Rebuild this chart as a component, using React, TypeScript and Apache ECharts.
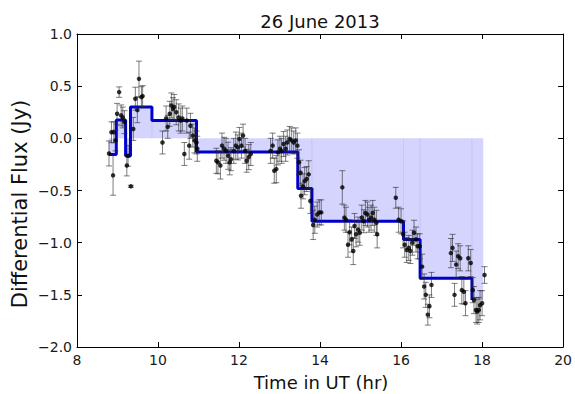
import React, { useEffect, useRef } from "react";
import * as echarts from "echarts";

const chartTitle = "26 June 2013";
const xName = "Time in UT (hr)";
const yName = "Differential Flux (Jy)";

const xTicks = [8, 10, 12, 14, 16, 18, 20];
const yTicks = [-2.0, -1.5, -1.0, -0.5, 0.0, 0.5, 1.0];

// step (binned) light curve
const stepEdges = [8.79, 8.97, 9.2, 9.32, 9.85, 10.95, 13.45, 13.8, 16.06, 16.47, 17.75, 18.03];
const stepLevels = [-0.155, 0.175, -0.17, 0.3, 0.17, -0.13, -0.48, -0.795, -0.97, -1.34, -1.55];

// individual measurements
const times = [
  8.79, 8.89, 8.85, 8.91, 8.95, 8.99, 9.04, 9.09, 9.13, 9.17, 9.23, 9.26, 9.33, 9.39, 9.44, 9.49, 9.53, 9.59, 9.62,
  10.11, 10.2, 10.24, 10.29, 10.33, 10.37, 10.4, 10.45, 10.51, 10.56, 10.6, 10.65, 10.71, 10.77, 10.8, 10.86, 10.9, 10.95, 10.97,
  11.44, 11.48, 11.54, 11.58, 11.63, 11.68, 11.73, 11.77, 11.8, 11.87, 11.92, 11.97, 12.01, 12.06, 12.1, 12.15, 12.19, 12.24, 12.29,
  12.78, 12.83, 12.87, 12.92, 12.96, 13.01, 13.05, 13.1, 13.15, 13.19, 13.25, 13.3, 13.35, 13.4, 13.44, 13.48, 13.52,
  13.53, 13.58, 13.62, 13.67, 13.72, 13.76, 13.83, 13.87, 13.93, 13.98, 14.03,
  14.55, 14.6, 14.64, 14.69, 14.73, 14.78, 14.82, 14.85, 14.89, 14.94, 14.98, 15.03, 15.08, 15.12, 15.17, 15.21, 15.26, 15.3, 15.34, 15.39, 15.41,
  15.87, 15.94, 16.0, 16.05, 16.09, 16.14, 16.19, 16.23, 16.28, 16.32, 16.37, 16.41, 16.46, 16.52, 16.57, 16.61, 16.66, 16.7, 16.75,
  17.23, 17.27, 17.32, 17.36, 17.41, 17.46, 17.5, 17.55, 17.59, 17.66, 17.72, 17.77, 17.8, 17.85, 17.88, 17.92, 17.95, 18.0, 18.06,
];
const fluxes = [
  -0.145, -0.355, 0.058, 0.058, -0.02, 0.235, 0.443, 0.22, 0.2, 0.155, -0.26, -0.167, -0.46, 0.09, 0.38, 0.27, 0.57, 0.395, 0.405,
  -0.04, 0.19, 0.11, 0.235, 0.315, 0.28, 0.3, 0.25, 0.2, 0.17, 0.19, -0.15, 0.17, -0.07, 0.12, 0.026, -0.02, -0.04, -0.1,
  -0.215, -0.23, -0.26, -0.07, -0.1, -0.12, -0.167, -0.23, -0.2, -0.12, -0.07, -0.087, -0.006, -0.07, 0.026, -0.12, -0.215, -0.18, -0.15,
  -0.12, -0.07, -0.31, -0.295, -0.135, -0.1, -0.12, -0.055, -0.1, -0.04, -0.006, -0.02, -0.04, -0.02, -0.07, -0.23, -0.33,
  -0.55, -0.46, -0.41, -0.39, -0.345, -0.6, -0.83, -0.78, -0.73, -0.71, -0.71,
  -0.47, -0.76, -0.78, -1.02, -0.9, -0.97, -1.08, -0.84, -0.92, -0.875, -0.905, -0.76, -0.795, -0.715, -0.73, -0.78, -0.76, -0.715, -0.78, -0.81, -0.92,
  -0.57, -0.78, -0.795, -0.92, -1.02, -1.07, -1.05, -1.08, -1.0, -0.905, -0.97, -1.035, -1.035, -1.23, -1.42, -1.5, -1.69, -1.61, -1.405,
  -1.1, -1.05, -1.5, -1.21, -1.13, -1.15, -1.455, -1.47, -1.58, -1.15, -1.195, -1.455, -1.55, -1.645, -1.66, -1.645, -1.6, -1.58, -1.31,
];
const errors = [
  0.12, 0.19, 0.1, 0.1, 0.1, 0.1, 0.05, 0.1, 0.1, 0.11, 0.1, 0.1, 0.01, 0.11, 0.11, 0.12, 0.17, 0.1, 0.1,
  0.11, 0.12, 0.11, 0.12, 0.12, 0.11, 0.12, 0.12, 0.13, 0.12, 0.12, 0.11, 0.12, 0.13, 0.12, 0.11, 0.12, 0.11, 0.12,
  0.12, 0.11, 0.13, 0.12, 0.11, 0.12, 0.13, 0.12, 0.11, 0.12, 0.13, 0.12, 0.11, 0.12, 0.11, 0.12, 0.11, 0.12, 0.11,
  0.12, 0.12, 0.12, 0.13, 0.12, 0.12, 0.12, 0.12, 0.12, 0.12, 0.12, 0.12, 0.11, 0.12, 0.12, 0.12, 0.12,
  0.12, 0.12, 0.13, 0.12, 0.13, 0.12, 0.14, 0.13, 0.12, 0.12, 0.12,
  0.16, 0.12, 0.12, 0.12, 0.12, 0.12, 0.13, 0.12, 0.12, 0.12, 0.12, 0.12, 0.11, 0.12, 0.12, 0.12, 0.12, 0.12, 0.12, 0.12, 0.13,
  0.1, 0.12, 0.12, 0.13, 0.12, 0.12, 0.12, 0.12, 0.12, 0.12, 0.12, 0.12, 0.12, 0.12, 0.12, 0.12, 0.1, 0.11, 0.12,
  0.14, 0.13, 0.11, 0.13, 0.12, 0.12, 0.13, 0.12, 0.12, 0.12, 0.13, 0.12, 0.13, 0.12, 0.12, 0.12, 0.14, 0.12, 0.08,
];

const FONT = "'DejaVu Sans', sans-serif";

export default function App() {
  const ref = useRef<HTMLDivElement>(null);

  useEffect(() => {
    if (!ref.current) return;
    const chart = echarts.init(ref.current, undefined, { renderer: "svg" });

    const linePts: number[][] = [];
    for (let i = 0; i < stepLevels.length - 1; i++) {
      linePts.push([stepEdges[i], stepLevels[i]]);
      linePts.push([stepEdges[i + 1], stepLevels[i]]);
    }
    linePts.push([stepEdges[stepLevels.length - 1], stepLevels[stepLevels.length - 1]]);

    const bins = stepLevels.map((v, i) => [stepEdges[i], stepEdges[i + 1], v]);
    const pts = times.map((t, i) => [t, fluxes[i], errors[i]]);

    const yFmt = (v: number) => v.toFixed(1).replace("-", "\u2212");
    const xMin = xTicks[0];
    const xMax = xTicks[xTicks.length - 1];
    const yMin = yTicks[0];
    const yMax = yTicks[yTicks.length - 1];

    const axisCommon = {
      axisLine: { show: true, onZero: false, lineStyle: { color: "#000", width: 1 } },
      axisTick: { show: true, inside: true, length: 5, lineStyle: { color: "#000" } },
      splitLine: { show: false },
    };

    chart.setOption({
      animation: false,
      backgroundColor: "#fff",
      grid: { left: 77, right: 11, top: 34, bottom: 47, containLabel: false },
      xAxis: [
        {
          type: "value", min: xMin, max: xMax, interval: 2, position: "bottom",
          ...axisCommon,
          axisLabel: { color: "#1a1a1a", fontSize: 14, fontFamily: FONT, margin: 6 },
        },
        {
          type: "value", min: xMin, max: xMax, interval: 2, position: "top",
          ...axisCommon,
          axisLabel: { show: false },
        },
      ],
      yAxis: [
        {
          type: "value", min: yMin, max: yMax, interval: 0.5, position: "left",
          ...axisCommon,
          axisLabel: { color: "#1a1a1a", fontSize: 14, fontFamily: FONT, margin: 5, formatter: yFmt },
        },
        {
          type: "value", min: yMin, max: yMax, interval: 0.5, position: "right",
          ...axisCommon,
          axisLabel: { show: false },
        },
      ],
      graphic: [
        {
          type: "text", x: 320, y: 21,
          style: { text: chartTitle, fill: "#111", font: `18px ${FONT}`, textAlign: "center", textVerticalAlign: "middle" },
        },
        {
          type: "text", x: 321, y: 382,
          style: { text: xName, fill: "#111", font: `18px ${FONT}`, textAlign: "center", textVerticalAlign: "middle" },
        },
        {
          type: "text", x: 20, y: 204, rotation: Math.PI / 2,
          style: { text: yName, fill: "#111", font: `21px ${FONT}`, textAlign: "center", textVerticalAlign: "middle" },
        },
      ],
      series: [
        {
          type: "custom",
          name: "fill",
          xAxisIndex: 0, yAxisIndex: 0,
          data: bins,
          encode: { x: [0, 1], y: 2 },
          silent: true,
          z: 1,
          renderItem: (params: any, api: any) => {
            const x0 = api.value(0), x1 = api.value(1), v = api.value(2);
            const a = api.coord([x0, 0]);
            const b = api.coord([x1, v]);
            const yTop = Math.min(a[1], b[1]);
            const h = Math.abs(a[1] - b[1]);
            return {
              type: "group",
              children: [
                {
                  type: "rect",
                  shape: { x: a[0], y: yTop, width: b[0] - a[0], height: h },
                  style: { fill: "rgba(0,0,255,0.17)" },
                },
                {
                  type: "line",
                  shape: { x1: a[0], y1: a[1], x2: a[0], y2: b[1] },
                  style: { stroke: "rgba(0,0,160,0.08)", lineWidth: 1 },
                },
              ],
            };
          },
        },
        {
          type: "line",
          name: "binned",
          xAxisIndex: 0, yAxisIndex: 0,
          data: linePts,
          showSymbol: false,
          symbol: "none",
          lineStyle: { color: "#0000cc", width: 3 },
          z: 2,
        },
        {
          type: "custom",
          name: "errors",
          xAxisIndex: 0, yAxisIndex: 0,
          data: pts,
          encode: { x: 0, y: 1 },
          silent: true,
          z: 3,
          renderItem: (params: any, api: any) => {
            const t = api.value(0), v = api.value(1), e = api.value(2);
            const top = api.coord([t, v + e]);
            const bot = api.coord([t, v - e]);
            const st = { stroke: "rgba(40,40,40,0.6)", lineWidth: 1 };
            const c = 3;
            return {
              type: "group",
              children: [
                { type: "line", shape: { x1: top[0], y1: top[1], x2: bot[0], y2: bot[1] }, style: st },
                { type: "line", shape: { x1: top[0] - c, y1: top[1], x2: top[0] + c, y2: top[1] }, style: st },
                { type: "line", shape: { x1: bot[0] - c, y1: bot[1], x2: bot[0] + c, y2: bot[1] }, style: st },
              ],
            };
          },
        },
        {
          type: "scatter",
          name: "points",
          xAxisIndex: 0, yAxisIndex: 0,
          data: pts.map((p) => [p[0], p[1]]),
          symbol: "circle",
          symbolSize: 4.5,
          itemStyle: { color: "#000" },
          z: 4,
        },
      ],
    });

    return () => chart.dispose();
  }, []);

  return <div ref={ref} style={{ position: "fixed", left: 0, top: 0, width: 575, height: 394 }} />;
}
